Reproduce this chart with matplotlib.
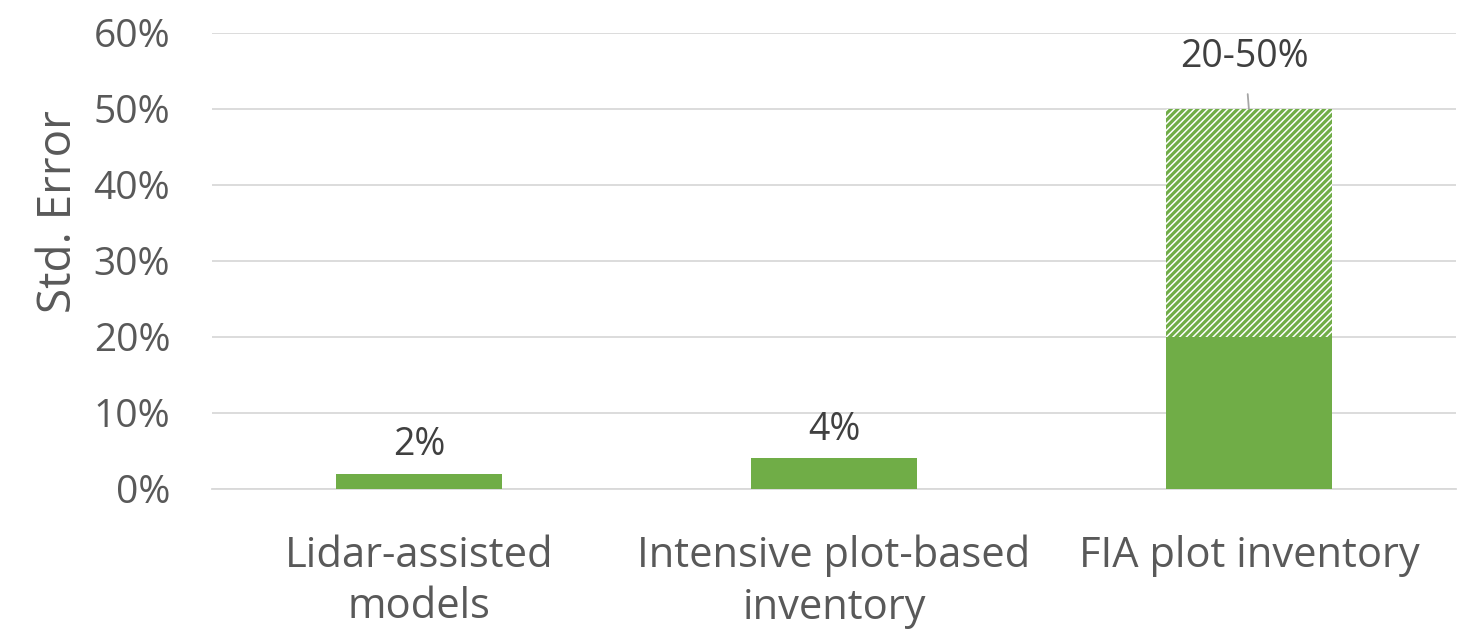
import numpy as np
import matplotlib.pyplot as plt

plt.switch_backend('Agg')
plt.rcParams['font.family'] = ['Open Sans', 'DejaVu Sans']
plt.rcParams['hatch.linewidth'] = 2.3

# Standard error by inventory method
categories = ['Lidar-assisted\nmodels', 'Intensive plot-based\ninventory', 'FIA plot inventory']
solid_vals = [0.02, 0.04, 0.20]        # low end of the range
range_vals = [0.0, 0.0, 0.30]          # extra span up to the high end
labels = ['2%', '4%', '20-50%']

green = '#70AD47'
text_gray = '#595959'

fig = plt.figure(figsize=(14.71, 6.3), dpi=100)
ax = fig.add_axes([0.144, 0.224, 0.846, 0.724])

x = np.arange(len(categories))
ax.bar(x, solid_vals, width=0.4, color=green, lw=0, zorder=3)
ax.bar(x, range_vals, bottom=solid_vals, width=0.4, facecolor='white',
       edgecolor=green, hatch='/////', lw=0, zorder=3)

# value labels
for i in range(2):
    ax.text(x[i], solid_vals[i] + 0.013, labels[i], ha='center', va='bottom',
            fontsize=27, color='#404040')
top = solid_vals[2] + range_vals[2]
ax.annotate(labels[2], xy=(x[2], top), xytext=(x[2] - 0.01, top + 0.068),
            ha='center', va='center', fontsize=27, color='#404040',
            arrowprops=dict(arrowstyle='-', color='#A6A6A6', lw=1.3,
                            shrinkA=11, shrinkB=0))

ax.set_xlim(-0.5, 2.5)
ax.set_ylim(0, 0.6)
ax.set_yticks(np.arange(0, 0.61, 0.1))
ax.set_yticklabels([f'{int(round(v * 100))}%' for v in np.arange(0, 0.61, 0.1)])
ax.set_xticks(x)
ax.set_xticklabels(categories, fontsize=30, color=text_gray, linespacing=1.3)
ax.tick_params(axis='y', labelsize=28, labelcolor=text_gray, length=0, pad=30)
ax.tick_params(axis='x', length=0, pad=33)
ax.set_ylabel('Std. Error', fontsize=33, color=text_gray, labelpad=8, y=0.607)

ax.grid(axis='y', color='#D9D9D9', lw=1.3, zorder=0)
ax.set_axisbelow(True)
for s in ['top', 'right', 'left']:
    ax.spines[s].set_visible(False)
ax.spines['bottom'].set_color('#D9D9D9')
ax.spines['bottom'].set_linewidth(1.3)

fig.savefig('out.png', dpi=100)
